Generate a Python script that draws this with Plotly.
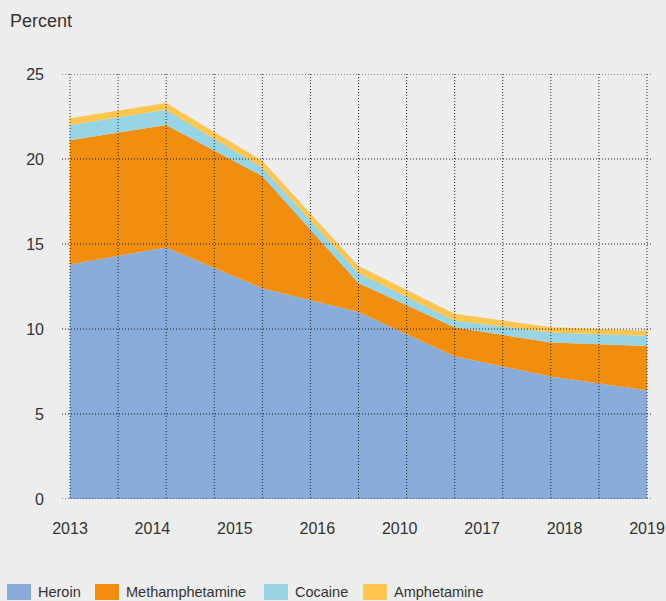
import plotly.graph_objects as go

# Share of treatment admissions by primary drug (percent), stacked
year_labels = ["2013", "2014", "2015", "2016", "2010", "2017", "2018", "2019"]
series_names = ["Heroin", "Methamphetamine", "Cocaine", "Amphetamine"]
heroin = [13.8, 14.8, 12.4, 11.0, 8.4, 7.2, 6.4]
methamphetamine = [7.3, 7.2, 6.6, 1.7, 1.7, 2.0, 2.6]
cocaine = [0.9, 0.9, 0.5, 0.6, 0.4, 0.6, 0.6]
amphetamine = [0.4, 0.4, 0.4, 0.4, 0.4, 0.3, 0.3]
y_ticks = [0, 5, 10, 15, 20, 25]

colors = ["#8aacdb", "#f18e10", "#98d4e4", "#fec64f"]
BG = "#ededed"
TEXT = "#333333"
W, H = 666, 601
ML, MR, MT, MB = 62, 14, 74, 102

n_grid = 12                      # vertical grid steps across the time span
step = n_grid // (len(heroin) - 1)
xs = [i * step for i in range(len(heroin))]
x_lo, x_hi = -0.166, 12.104

fig = go.Figure()
for name, vals, col in zip(series_names,
                           [heroin, methamphetamine, cocaine, amphetamine],
                           colors):
    fig.add_trace(go.Scatter(
        x=xs, y=vals, name=name, mode="lines", stackgroup="one",
        line=dict(width=0, color=col), fillcolor=col, showlegend=False,
        hoverinfo="x+y+name",
    ))

# Dotted grid drawn above the filled areas
dash = "1px,2px"
grid_col = "#222222"
shapes = []
for v in y_ticks:
    shapes.append(dict(type="line", xref="paper", yref="y", x0=0, x1=1,
                       y0=v, y1=v, layer="above",
                       line=dict(color=grid_col, width=1, dash=dash)))
for g in range(n_grid + 1):
    shapes.append(dict(type="line", xref="x", yref="y", x0=g, x1=g,
                       y0=-0.12, y1=25, layer="above",
                       line=dict(color=grid_col, width=1, dash=dash)))

# Legend row drawn as swatches and labels along the bottom
plot_w = W - ML - MR
plot_h = H - MT - MB


def px_x(p):
    return (p - ML) / plot_w


def px_y(p):
    return (H - MB - p) / plot_h


swatch_left = [7, 95, 264, 363]
annotations = []
for left, name, col in zip(swatch_left, series_names, colors):
    shapes.append(dict(type="rect", xref="paper", yref="paper",
                       x0=px_x(left), x1=px_x(left + 24),
                       y0=px_y(600), y1=px_y(584),
                       fillcolor=col, line=dict(width=0), layer="above"))
    annotations.append(dict(xref="paper", yref="paper",
                            x=px_x(left + 30), y=px_y(601),
                            xanchor="left", yanchor="bottom", showarrow=False,
                            text=name, borderpad=0,
                            font=dict(family="Liberation Sans, Arial, sans-serif",
                                      size=14.5, color=TEXT)))

annotations.append(dict(xref="paper", yref="paper", x=px_x(8), y=px_y(21),
                        xanchor="left", yanchor="middle", showarrow=False,
                        text="Percent",
                        font=dict(family="Liberation Sans, Arial, sans-serif",
                                  size=18, color=TEXT)))

fig.update_layout(
    width=W, height=H,
    margin=dict(l=ML, r=MR, t=MT, b=MB, pad=0, autoexpand=False),
    paper_bgcolor=BG, plot_bgcolor=BG,
    font=dict(family="Liberation Sans, Arial, sans-serif", size=16, color=TEXT),
    shapes=shapes, annotations=annotations,
    xaxis=dict(range=[x_lo, x_hi], showgrid=False, zeroline=False,
               showline=False, ticks="", automargin=False,
               tickvals=[i * n_grid / (len(year_labels) - 1) for i in range(len(year_labels))],
               ticktext=year_labels, ticklabelstandoff=18,
               tickfont=dict(size=16, color=TEXT)),
    yaxis=dict(range=[0, 25], showgrid=False, zeroline=False, showline=False,
               ticks="", tickvals=y_ticks, ticklabelstandoff=17,
               automargin=False, tickfont=dict(size=16, color=TEXT)),
    hovermode=False,
)

fig.write_html("out.html")
